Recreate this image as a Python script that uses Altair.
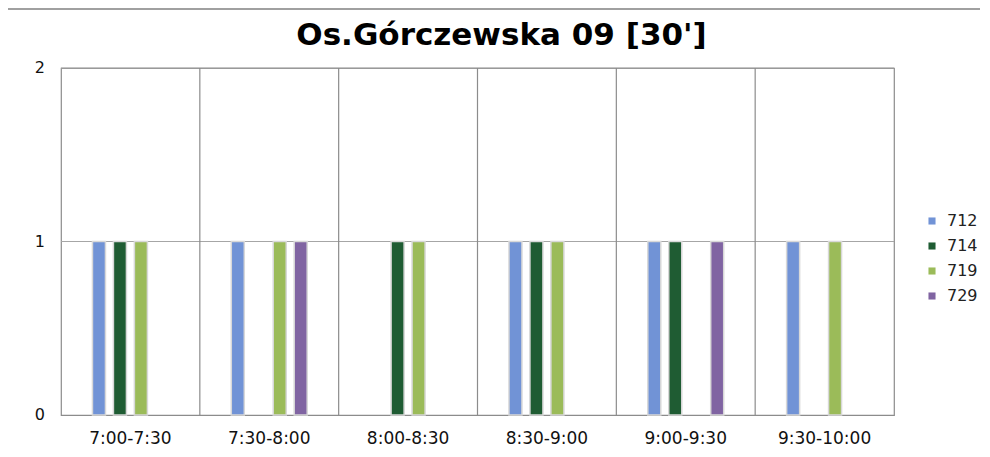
import altair as alt
import pandas as pd

categories = ["7:00-7:30", "7:30-8:00", "8:00-8:30", "8:30-9:00", "9:00-9:30", "9:30-10:00"]
series = ["712", "714", "719", "729"]
v712 = [1, 1, 0, 1, 1, 1]
v714 = [1, 0, 1, 1, 1, 0]
v719 = [1, 1, 1, 1, 0, 1]
v729 = [0, 1, 0, 0, 1, 0]
y_ticks = [0, 1, 2]
colors = ["#7193d6", "#1f5c33", "#9bbb59", "#8064a2"]
title_text = "Os.Górczewska 09 [30']"

rows = []
for s, vals in zip(series, [v712, v714, v719, v729]):
    for c, v in zip(categories, vals):
        rows.append({"cat": c, "series": s, "value": v})
df = pd.DataFrame(rows)
cat_df = pd.DataFrame({"cat": categories})
tick_df = pd.DataFrame({"v": y_ticks, "label": [str(t) for t in y_ticks]})

W, H = 833, 347
FONT = "DejaVu Sans"

xscale = alt.Scale(domain=categories, paddingInner=0, paddingOuter=0)
yscale = alt.Scale(domain=[0, 2], nice=False)
offset_domain = ["_l"] + series + ["_r"]

hgrid = alt.Chart(tick_df).transform_filter("datum.v > 0").mark_rule(
    color="#a6a6a6", strokeWidth=1
).encode(
    y=alt.Y("v:Q", scale=yscale, axis=None),
)

dividers = alt.Chart(cat_df).transform_filter(
    alt.datum.cat != categories[0]
).mark_rule(color="#8c8c8c", strokeWidth=1.2).encode(
    x=alt.X("cat:N", scale=xscale, sort=categories, bandPosition=0, axis=None),
)

bars = alt.Chart(df).transform_filter("datum.value > 0").mark_bar(
    stroke="#d8d8d8", strokeWidth=1.5
).encode(
    x=alt.X("cat:N", scale=xscale, sort=categories, axis=None),
    xOffset=alt.XOffset("series:N", scale=alt.Scale(domain=offset_domain, paddingInner=0.38, paddingOuter=0.5)),
    y=alt.Y("value:Q", scale=yscale, axis=None),
    color=alt.Color("series:N", scale=alt.Scale(domain=series, range=colors),
                    legend=alt.Legend(title=None, orient="none", legendX=863, legendY=145,
                                      symbolType="square", symbolSize=50, symbolStrokeWidth=0,
                                      labelFontSize=16, labelFont=FONT, labelColor="#222222",
                                      rowPadding=9, labelOffset=7)),
)

xlabels = alt.Chart(cat_df).mark_text(
    font=FONT, fontSize=17, color="#111111", align="center", baseline="top", clip=False
).encode(
    x=alt.X("cat:N", scale=xscale, sort=categories, axis=None),
    y=alt.value(H + 16),
    text="cat:N",
)

ylabels = alt.Chart(tick_df).mark_text(
    font=FONT, fontSize=16, color="#111111", align="right", baseline="middle", clip=False
).encode(
    y=alt.Y("v:Q", scale=yscale, axis=None),
    x=alt.value(-16),
    text="label:N",
)

title = alt.Chart(cat_df).transform_filter(alt.datum.cat == categories[0]).mark_text(
    font=FONT, fontSize=31, fontWeight="bold", color="#000000",
    align="center", baseline="alphabetic", clip=False
).encode(
    x=alt.value(W / 2 + 24), y=alt.value(-23), text=alt.value(title_text)
)

frame = alt.Chart(cat_df).transform_filter(alt.datum.cat == categories[0]).mark_rect(
    fill="transparent", fillOpacity=0, stroke="#a0a0a0", strokeWidth=2, clip=False
).encode(
    x=alt.value(-54), x2=alt.value(W + 140), y=alt.value(-59), y2=alt.value(H + 80)
)

chart = alt.layer(hgrid, dividers, bars, xlabels, ylabels, title, frame).properties(
    width=W, height=H,
    padding={"left": 53, "top": 60, "right": 86, "bottom": 32},
    autosize=alt.AutoSizeParams(type="none"),
).configure_view(stroke="#8c8c8c", strokeWidth=1.2)

chart.save("out.html", embed_options={"renderer": "svg", "actions": False})
